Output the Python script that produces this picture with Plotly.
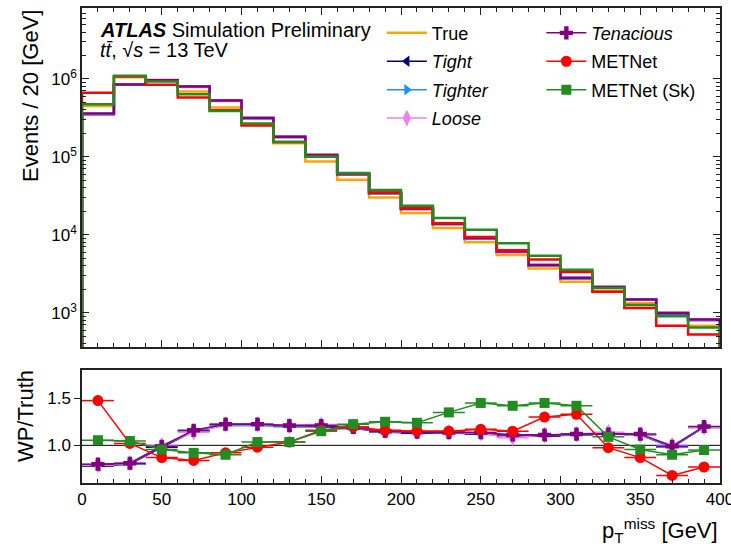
import plotly.graph_objects as go

# Binning: 20 GeV bins from 0 to 400 GeV
bin_edges = list(range(0, 420, 20))
bin_centers = [e + 10 for e in bin_edges[:-1]]

# Truth-level missing pT distribution (events per bin)
true_counts = [4.5e5, 1.05e6, 9.7e5, 6.9e5, 4.3e5, 2.58e5, 1.5e5, 8.7e4, 5.07e4, 3.0e4,
               1.9e4, 1.22e4, 8.0e3, 5.5e3, 3.7e3, 2.5e3, 1.9e3, 1.32e3, 1.0e3, 6.8e2]

# Ratios of each working point to the truth, per bin
ratio_tight = [0.78, 0.80, 0.98, 1.15, 1.22, 1.22, 1.20, 1.20, 1.18, 1.14,
               1.13, 1.13, 1.12, 1.10, 1.10, 1.11, 1.13, 1.11, 0.98, 1.19]
ratio_tighter = [0.79, 0.80, 0.99, 1.15, 1.21, 1.21, 1.20, 1.21, 1.18, 1.14,
                 1.14, 1.13, 1.13, 1.11, 1.11, 1.11, 1.12, 1.11, 0.98, 1.19]
ratio_loose = [0.79, 0.81, 1.00, 1.14, 1.22, 1.22, 1.21, 1.22, 1.20, 1.15,
               1.14, 1.14, 1.13, 1.08, 1.11, 1.12, 1.14, 1.11, 1.00, 1.19]
ratio_tenacious = [0.80, 0.81, 0.99, 1.16, 1.225, 1.225, 1.21, 1.21, 1.19, 1.15,
                   1.14, 1.135, 1.135, 1.11, 1.11, 1.12, 1.12, 1.12, 0.99, 1.20]
ratio_metnet = [1.475, 1.02, 0.87, 0.84, 0.92, 0.98, 1.035, 1.16, 1.195, 1.16,
                1.15, 1.15, 1.17, 1.15, 1.30, 1.33, 0.975, 0.87, 0.68, 0.77]
ratio_metnet_sk = [1.054, 1.046, 0.955, 0.92, 0.90, 1.035, 1.035, 1.15, 1.225, 1.25,
                   1.24, 1.35, 1.45, 1.42, 1.45, 1.42, 1.09, 0.955, 0.90, 0.95]

series = [
    # name, ratios, colour, marker symbol, marker size, legend
    ("<i>Tight</i>", ratio_tight, "#000080", "triangle-left", 10, "legend"),
    ("<i>Tighter</i>", ratio_tighter, "#1E90FF", "triangle-right", 10, "legend"),
    ("<i>Loose</i>", ratio_loose, "#EE82EE", "diamond-tall", 12, "legend"),
    ("<i>Tenacious</i>", ratio_tenacious, "#800080", "cross", 11, "legend2"),
    ("METNet", ratio_metnet, "#FF0000", "circle", 11, "legend2"),
    ("METNet (Sk)", ratio_metnet_sk, "#228B22", "square", 10, "legend2"),
]

FONT = "Liberation Sans, Arial, Helvetica, sans-serif"
FLOOR = 1.0  # below the visible range, so the histogram edges drop to the axis


def step_xy(counts):
    xs, ys = [bin_edges[0]], [FLOOR]
    for i, c in enumerate(counts):
        xs += [bin_edges[i], bin_edges[i + 1]]
        ys += [c, c]
    xs.append(bin_edges[-1])
    ys.append(FLOOR)
    return xs, ys


fig = go.Figure()

# Upper panel: step histograms
tx, ty = step_xy(true_counts)
fig.add_trace(go.Scatter(x=tx, y=ty, mode="lines", name="True",
                         line=dict(color="#FFA500", width=2.5),
                         xaxis="x", yaxis="y", legend="legend",
                         legendgroup="true"))
for name, ratios, colour, sym, msize, leg in series:
    counts = [t * r for t, r in zip(true_counts, ratios)]
    sx, sy = step_xy(counts)
    fig.add_trace(go.Scatter(x=sx, y=sy, mode="lines", name=name,
                             line=dict(color=colour, width=2.5),
                             xaxis="x", yaxis="y", showlegend=False))

# Lower panel: ratio to truth
for name, ratios, colour, sym, msize, leg in series:
    fig.add_trace(go.Scatter(
        x=bin_centers, y=ratios, mode="lines+markers", name=name,
        line=dict(color=colour, width=1.5),
        marker=dict(symbol=sym, size=msize, color=colour,
                    line=dict(width=0)),
        error_x=dict(type="constant", value=10, color=colour,
                     thickness=1.5, width=0),
        xaxis="x2", yaxis="y2", legend=leg, legendgroup=name))

# Reference line at unity
fig.add_shape(type="line", xref="x2", yref="y2", x0=0, x1=400, y0=1, y1=1,
              line=dict(color="black", width=1), layer="below")

axis_line = dict(showline=True, linecolor="#222222", linewidth=1.5,
                 showgrid=False, zeroline=False, automargin=False)

log_minor = [m * 10 ** p for p in range(2, 7) for m in range(2, 10)]

fig.update_layout(
    width=731, height=547,
    margin=dict(l=82, r=11, t=8, b=64, autoexpand=False),
    paper_bgcolor="white", plot_bgcolor="white",
    font=dict(family=FONT, size=17, color="black"),
    xaxis=dict(domain=[0, 1], anchor="y", range=[0, 400],
               tickvals=list(range(0, 401, 50)), showticklabels=False,
               ticks="inside", ticklen=7, tickcolor="#222222",
               mirror="ticks",
               minor=dict(dtick=10, ticks="inside", ticklen=4,
                          tickcolor="#222222"),
               **axis_line),
    yaxis=dict(domain=[0.2863, 1], anchor="x", type="log",
               range=[2.56, 6.91],
               tickvals=[1e3, 1e4, 1e5, 1e6],
               ticktext=["10<sup>3</sup>", "10<sup>4</sup>",
                         "10<sup>5</sup>", "10<sup>6</sup>"],
               ticks="inside", ticklen=7, tickcolor="#222222",
               mirror="ticks",
               minor=dict(tickmode="array", tickvals=log_minor,
                          ticks="inside", ticklen=4, tickcolor="#222222"),
               **axis_line),
    xaxis2=dict(domain=[0, 1], anchor="y2", range=[0, 400],
                tickvals=list(range(0, 401, 50)),
                ticklabeloverflow="allow",
                ticks="inside", ticklen=7, tickcolor="#222222",
                mirror=True,
                minor=dict(dtick=10, ticks="inside", ticklen=4,
                           tickcolor="#222222"),
                **axis_line),
    yaxis2=dict(domain=[0, 0.2379], anchor="x2", range=[0.6, 1.8],
                tickvals=[1.0, 1.5], tickformat=".1f",
                ticks="outside", ticklen=6, tickcolor="#222222",
                mirror=True,
                **axis_line),
    legend=dict(x=0.47, y=0.986, xanchor="left", yanchor="top",
                bgcolor="rgba(0,0,0,0)", borderwidth=0,
                font=dict(size=18), itemwidth=40, tracegroupgap=2,
                itemclick=False),
    legend2=dict(x=0.72, y=0.986, xanchor="left", yanchor="top",
                 bgcolor="rgba(0,0,0,0)", borderwidth=0,
                 font=dict(size=18), itemwidth=40, tracegroupgap=2,
                 itemclick=False),
    annotations=[
        dict(text="<b><i>ATLAS</i></b> Simulation Preliminary",
             xref="paper", yref="paper", x=0.025, y=0.9537,
             xanchor="left", yanchor="middle", showarrow=False,
             font=dict(size=20)),
        dict(text="<i>t</i><i>t\u0304</i>, \u221a<i>s</i> = 13 TeV",
             xref="paper", yref="paper", x=0.025, y=0.9116,
             xanchor="left", yanchor="middle", showarrow=False,
             font=dict(size=20)),
        dict(text="Events / 20 [GeV]", textangle=-90,
             xref="paper", yref="paper", x=-0.0815, y=1.0,
             xanchor="center", yanchor="top", showarrow=False,
             font=dict(size=22)),
        dict(text="WP/Truth", textangle=-90,
             xref="paper", yref="paper", x=-0.0893, y=0.242,
             xanchor="center", yanchor="top", showarrow=False,
             font=dict(size=22)),
        dict(text="p<sub>T</sub><sup>miss</sup> [GeV]",
             xref="paper", yref="paper", x=1.0, y=-0.099,
             xanchor="right", yanchor="middle", showarrow=False,
             font=dict(size=22)),
    ],
)

fig.write_html("out.html")
